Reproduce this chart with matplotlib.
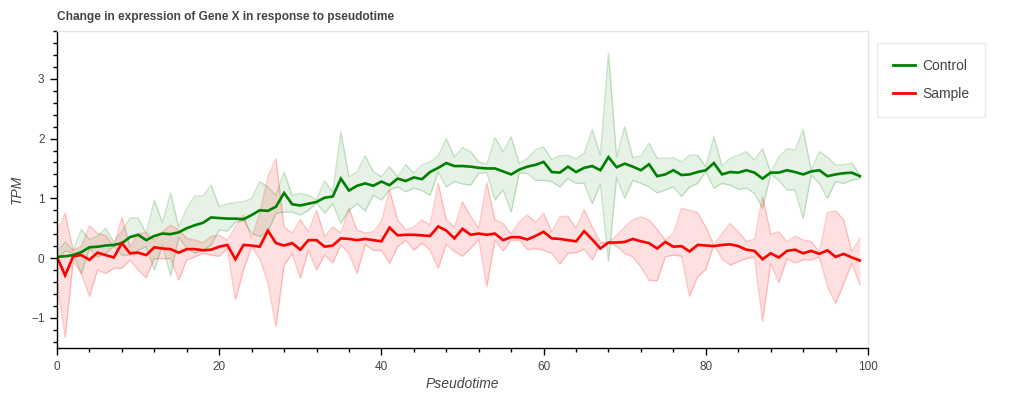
import matplotlib
matplotlib.use("Agg")
import matplotlib.pyplot as plt
import numpy as np
from matplotlib.ticker import MultipleLocator
from matplotlib.lines import Line2D

pseudotime = list(range(100))

control_mean = [
    0.02, 0.03, 0.05, 0.10, 0.18, 0.19, 0.21, 0.22, 0.25, 0.35,
    0.39, 0.30, 0.37, 0.41, 0.40, 0.43, 0.50, 0.55, 0.59, 0.68,
    0.67, 0.66, 0.66, 0.65, 0.72, 0.80, 0.79, 0.86, 1.09, 0.90,
    0.88, 0.91, 0.94, 1.01, 1.03, 1.33, 1.13, 1.21, 1.25, 1.21,
    1.28, 1.22, 1.33, 1.29, 1.35, 1.32, 1.44, 1.51, 1.59, 1.54,
    1.54, 1.53, 1.51, 1.50, 1.50, 1.45, 1.40, 1.48, 1.53, 1.56,
    1.61, 1.44, 1.43, 1.53, 1.44, 1.51, 1.54, 1.47, 1.69, 1.52,
    1.58, 1.53, 1.47, 1.57, 1.37, 1.40, 1.47, 1.39, 1.40, 1.44,
    1.47, 1.59, 1.40, 1.44, 1.43, 1.47, 1.43, 1.33, 1.43, 1.43,
    1.47, 1.44, 1.40, 1.45, 1.47, 1.37, 1.40, 1.42, 1.43, 1.37,
]
control_upper = [
    0.11, 0.27, 0.13, 0.48, 0.31, 0.37, 0.50, 0.27, 0.45, 0.67,
    0.67, 0.42, 0.97, 0.59, 1.09, 0.52, 0.83, 1.04, 1.04, 1.22,
    0.86, 0.91, 0.93, 0.94, 1.00, 1.28, 1.19, 1.05, 1.44, 1.05,
    1.08, 1.05, 0.98, 1.29, 1.11, 2.11, 1.36, 1.44, 1.71, 1.45,
    1.36, 1.53, 1.36, 1.56, 1.42, 1.56, 1.61, 1.71, 2.00, 1.69,
    1.85, 1.78, 1.61, 1.57, 2.02, 1.78, 2.03, 1.58, 1.67, 1.81,
    1.86, 1.65, 1.71, 1.72, 1.66, 1.75, 2.15, 1.72, 3.43, 1.69,
    2.20, 1.68, 1.71, 1.92, 1.67, 1.67, 1.68, 1.61, 1.72, 1.72,
    1.53, 2.03, 1.54, 1.67, 1.72, 1.78, 1.64, 1.83, 1.44, 1.69,
    1.83, 1.81, 2.15, 1.47, 1.78, 1.69, 1.56, 1.56, 1.59, 1.39,
]
control_lower = [
    -0.03, 0.12, 0.08, -0.26, 0.16, 0.02, 0.08, 0.20, 0.05, 0.05,
    0.13, 0.19, -0.20, 0.22, -0.30, 0.35, 0.16, 0.08, 0.13, 0.22,
    0.47, 0.45, 0.60, 0.63, 0.41, 0.36, 0.44, 0.75, 0.77, 0.77,
    0.72, 0.80, 0.92, 0.75, 0.91, 0.58, 0.80, 0.91, 0.79, 1.05,
    0.97, 1.14, 1.19, 1.11, 1.17, 1.13, 1.05, 1.44, 1.19, 1.28,
    1.24, 1.22, 1.42, 1.43, 0.97, 1.14, 0.77, 1.42, 1.42, 1.30,
    1.30, 1.28, 1.19, 1.33, 1.25, 1.25, 0.91, 1.24, -0.06, 1.35,
    1.00, 1.30, 1.25, 1.19, 1.09, 1.14, 1.19, 1.03, 1.19, 1.25,
    1.45, 1.17, 1.25, 1.22, 1.15, 1.17, 1.08, 0.83, 1.40, 1.30,
    1.14, 1.14, 0.66, 1.39, 1.25, 1.00, 1.28, 1.25, 1.30, 1.33,
]

sample_mean = [
    0.02, -0.29, 0.03, 0.05, -0.03, 0.09, 0.05, 0.01, 0.25, 0.08,
    0.09, 0.05, 0.18, 0.16, 0.15, 0.09, 0.15, 0.15, 0.13, 0.14,
    0.19, 0.22, -0.02, 0.22, 0.21, 0.19, 0.46, 0.25, 0.21, 0.25,
    0.14, 0.30, 0.30, 0.19, 0.21, 0.33, 0.32, 0.30, 0.32, 0.30,
    0.28, 0.51, 0.38, 0.39, 0.39, 0.38, 0.37, 0.53, 0.46, 0.33,
    0.49, 0.39, 0.41, 0.39, 0.41, 0.30, 0.35, 0.35, 0.31, 0.37,
    0.44, 0.33, 0.32, 0.30, 0.28, 0.45, 0.31, 0.16, 0.26, 0.26,
    0.27, 0.32, 0.28, 0.25, 0.16, 0.27, 0.19, 0.20, 0.11, 0.22,
    0.21, 0.20, 0.22, 0.23, 0.20, 0.14, 0.12, -0.02, 0.08, 0.01,
    0.12, 0.14, 0.08, 0.12, 0.07, 0.13, 0.02, 0.07, 0.01, -0.04,
]
sample_upper = [
    0.41, 0.75, 0.13, 0.19, 0.54, 0.41, 0.38, 0.19, 0.68, 0.19,
    0.41, 0.42, 0.30, 0.44, 0.55, 0.47, 0.33, 0.30, 0.26, 0.36,
    0.38, 0.30, 0.52, 0.72, 0.33, 0.75, 1.36, 1.66, 0.52, 0.42,
    0.64, 0.44, 0.80, 0.36, 0.52, 0.42, 0.83, 0.47, 0.42, 0.44,
    0.61, 1.14, 0.64, 0.47, 0.52, 0.64, 0.55, 1.25, 0.64, 0.52,
    0.94, 0.70, 0.50, 1.26, 0.64, 0.58, 0.40, 0.61, 0.72, 0.60,
    0.75, 0.44, 0.69, 0.70, 0.50, 0.81, 0.52, 0.27, 0.26, 0.38,
    0.52, 0.64, 0.69, 0.64, 0.48, 0.30, 0.41, 0.83, 0.80, 0.76,
    0.52, 0.22, 0.41, 0.58, 0.44, 0.28, 0.31, 1.03, 0.40, 0.44,
    0.27, 0.37, 0.30, 0.28, 0.10, 0.76, 0.79, 0.64, 0.11, 0.33,
]
sample_lower = [
    -0.37, -1.33, -0.06, -0.26, -0.64, -0.20, -0.26, -0.17, -0.17, -0.03,
    -0.20, -0.33, -0.01, -0.01, -0.01, -0.37, -0.03, 0.02, 0.08, 0.05,
    0.03, 0.16, -0.70, -0.20, 0.19, -0.01, -0.42, -1.15, -0.12, 0.08,
    -0.34, 0.13, -0.20, 0.05, -0.08, 0.22, 0.08, -0.26, 0.23, 0.13,
    0.13, -0.09, 0.19, 0.30, 0.13, 0.25, 0.13, -0.17, 0.23, 0.11,
    0.03, 0.16, 0.31, -0.48, 0.30, 0.12, 0.30, 0.30, 0.14, 0.16,
    0.13, 0.08, -0.10, 0.08, 0.09, 0.15, -0.03, 0.24, 0.25, 0.20,
    0.08, 0.02, -0.15, -0.37, -0.38, 0.02, 0.05, 0.03, -0.64, -0.31,
    -0.19, 0.22, -0.01, -0.12, -0.06, -0.01, 0.02, -1.06, -0.09, -0.41,
    -0.01, -0.08, -0.03, -0.03, 0.02, -0.48, -0.76, -0.43, -0.09, -0.45,
]

FONT = ["Liberation Sans", "DejaVu Sans"]
plt.rcParams["font.family"] = FONT

W, H = 1024, 398
fig = plt.figure(figsize=(W / 100, H / 100), dpi=100)
L, R, T, B = 57, 868, 31, 348
ax = fig.add_axes([L / W, 1 - B / H, (R - L) / W, (B - T) / H])

x = np.array(pseudotime)
ax.fill_between(x, control_lower, control_upper, color="green", alpha=0.1, lw=0)
ax.plot(x, control_upper, color="green", alpha=0.2, lw=1)
ax.plot(x, control_lower, color="green", alpha=0.2, lw=1)
ax.fill_between(x, sample_lower, sample_upper, color="red", alpha=0.12, lw=0)
ax.plot(x, sample_upper, color="red", alpha=0.2, lw=1)
ax.plot(x, sample_lower, color="red", alpha=0.2, lw=1)
ax.plot(x, control_mean, color="green", lw=1.9, solid_joinstyle="miter")
ax.plot(x, sample_mean, color="red", lw=1.9, solid_joinstyle="miter")

ax.set_xlim(0, 100)
ax.set_ylim(-1.505, 3.8)
ax.xaxis.set_major_locator(MultipleLocator(20))
ax.xaxis.set_minor_locator(MultipleLocator(4))
ax.yaxis.set_major_locator(MultipleLocator(1))
ax.yaxis.set_minor_locator(MultipleLocator(0.2))
ax.tick_params(which="major", length=5, width=1, color="black", labelsize=8.5,
               labelcolor="#444444", pad=4)
ax.tick_params(which="minor", length=3, width=1, color="black")
for s in ("left", "bottom"):
    ax.spines[s].set_color("black")
    ax.spines[s].set_linewidth(1)
for s in ("top", "right"):
    ax.spines[s].set_color("#e5e5e5")
    ax.spines[s].set_linewidth(1)

ax.set_xlabel("Pseudotime", fontsize=10, style="italic", color="#444444", labelpad=3)
ax.set_ylabel("TPM", fontsize=10, style="italic", color="#444444", labelpad=5)
fig.text(L / W, 1 - 17 / H, "Change in expression of Gene X in response to pseudotime",
         fontsize=8.6, fontweight="bold", color="#444444", ha="left", va="center")

handles = [Line2D([], [], color="green", lw=2), Line2D([], [], color="red", lw=2)]
leg = fig.legend(handles, ["Control", "Sample"], loc="upper left",
                 bbox_to_anchor=(877 / W, 1 - 43 / H), frameon=True, fancybox=False,
                 fontsize=10, handlelength=1.6, handletextpad=0.5, labelspacing=1.0,
                 borderpad=1.15, borderaxespad=0)
leg.get_frame().set_edgecolor("#e5e5e5")
leg.get_frame().set_linewidth(1)
for t in leg.get_texts():
    t.set_color("#444444")

fig.savefig("out.png", dpi=100)
